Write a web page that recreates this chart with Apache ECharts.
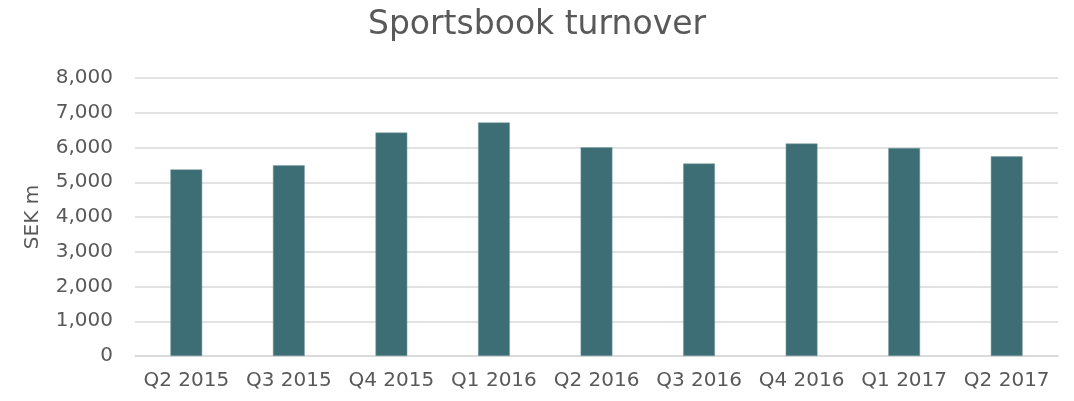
<!DOCTYPE html>
<html>
<head>
<meta charset="utf-8">
<script src="https://cdn.jsdelivr.net/npm/echarts@6/dist/echarts.min.js"></script>
<style>
    html, body { margin: 0; padding: 0; background: #fff; }
    #main { width: 1074px; height: 401px; }
</style>
</head>
<body>
<div id="main"></div>
<script>
// data
const quarters = ['Q2 2015', 'Q3 2015', 'Q4 2015', 'Q1 2016', 'Q2 2016', 'Q3 2016', 'Q4 2016', 'Q1 2017', 'Q2 2017'];
const turnover = [5370, 5490, 6430, 6720, 6005, 5540, 6115, 5985, 5745];
const yTicks = { min: 0, max: 8000, interval: 1000 };

const textColor = '#595959';
const font = 'DejaVu Sans';

const chart = echarts.init(document.getElementById('main'));
chart.setOption({
    animation: false,
    title: {
        text: 'Sportsbook turnover',
        left: 'center',
        top: 4,
        textStyle: { fontFamily: font, fontSize: 33, fontWeight: 'normal', color: textColor }
    },
    grid: { left: 135, right: 16, top: 78, bottom: 45 },
    xAxis: {
        type: 'category',
        data: quarters,
        axisTick: { show: false },
        axisLine: { lineStyle: { color: '#d9d9d9', width: 1.5 } },
        axisLabel: { interval: 0, fontFamily: font, fontSize: 20, color: textColor, margin: 15 }
    },
    yAxis: {
        type: 'value',
        min: yTicks.min,
        max: yTicks.max,
        interval: yTicks.interval,
        name: 'SEK m',
        nameLocation: 'middle',
        nameGap: 92,
        nameTextStyle: { fontFamily: font, fontSize: 20, color: textColor },
        axisLine: { show: false },
        axisTick: { show: false },
        splitLine: { lineStyle: { color: '#d9d9d9', width: 1.5 } },
        axisLabel: {
            fontFamily: font, fontSize: 20, color: textColor, margin: 22,
            formatter: v => v.toLocaleString('en-US')
        }
    },
    series: [{
        type: 'bar',
        data: turnover,
        barWidth: '31%',
        itemStyle: { color: '#3e6e75', borderColor: '#7d9ea3', borderWidth: 0.5 }
    }]
});
</script>
</body>
</html>
